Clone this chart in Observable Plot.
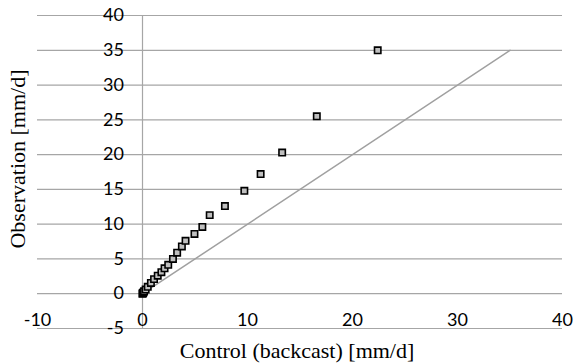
<!DOCTYPE html>
<html>
<head>
<meta charset="utf-8">
<script src="https://cdn.jsdelivr.net/npm/d3@7"></script>
<script src="https://cdn.jsdelivr.net/npm/@observablehq/plot@0.6"></script>
<style>
  html, body { margin: 0; padding: 0; background: #fff; }
  #chart svg { display: block; }
</style>
</head>
<body>
<div id="chart"></div>
<script>
// Backcast control vs. observed precipitation quantiles [mm/d]
const control = [0, 0.02, 0.05, 0.1, 0.15, 0.3, 0.5, 0.8, 1.1, 1.45, 1.8, 2.1, 2.45, 2.9, 3.3, 3.75, 4.1, 4.95, 5.7, 6.4, 7.85, 9.7, 11.25, 13.3, 16.6, 22.4];
const observation = [0, 0.06, 0.12, 0.22, 0.35, 0.6, 1.0, 1.55, 2.1, 2.6, 3.1, 3.65, 4.15, 5.0, 5.9, 6.8, 7.6, 8.6, 9.6, 11.3, 12.6, 14.8, 17.2, 20.3, 25.5, 35.0];

// 1:1 reference line
const oneToOne = [0, 35];

const xTicks = [-10, 0, 10, 20, 30, 40];
const yTicks = [-5, 0, 5, 10, 15, 20, 25, 30, 35, 40];

const xTitle = "Control (backcast) [mm/d]";
const yTitle = "Observation [mm/d]";

const points = control.map((c, i) => ({c, o: observation[i]}));
const diag = oneToOne.map(v => ({v}));

const gridColor = "#a6a6a6";
const tickFont = "Lato, 'Open Sans', sans-serif";
const titleFont = "'Liberation Serif', 'DejaVu Serif', serif";

const chart = Plot.plot({
  width: 577,
  height: 364,
  marginLeft: 37,
  marginRight: 15,
  marginTop: 15,
  marginBottom: 36,
  x: {domain: [-10, 40], axis: null},
  y: {domain: [-5, 40], axis: null},
  style: {background: "#fff"},
  marks: [
    // horizontal gridlines
    Plot.ruleY(yTicks, {x1: -10, x2: 40, stroke: gridColor, strokeWidth: 1.2}),
    // vertical axis through x = 0
    Plot.ruleX([0], {y1: -5, y2: 40, stroke: gridColor, strokeWidth: 1.2}),
    // y tick labels next to the vertical axis
    Plot.text(yTicks, {x: 0, y: d => d, text: d => String(d), textAnchor: "end", dx: -18.5,
      fontFamily: tickFont, fontSize: 18, fill: "#000"}),
    // x tick labels just above the bottom line
    Plot.text(xTicks, {x: d => d, y: -5, text: d => String(d), dy: -8,
      fontFamily: tickFont, fontSize: 18, fill: "#000"}),
    // 1:1 line
    Plot.line(diag, {x: "v", y: "v", stroke: "#a0a0a0", strokeWidth: 1.5}),
    // quantile pairs
    Plot.dot(points, {x: "c", y: "o", symbol: "square", r: 3.6,
      fill: "#bfbfbf", stroke: "#000", strokeWidth: 1.6}),
    // axis titles
    Plot.text([xTitle], {frameAnchor: "bottom", lineAnchor: "middle", dx: -3, dy: 22,
      fontFamily: titleFont, fontSize: 22, fill: "#000"}),
    Plot.text([yTitle], {frameAnchor: "left", textAnchor: "middle", lineAnchor: "middle", rotate: -90,
      dx: -20, dy: -13, fontFamily: titleFont, fontSize: 22, fill: "#000"})
  ]
});

document.getElementById("chart").appendChild(chart);
</script>
</body>
</html>
